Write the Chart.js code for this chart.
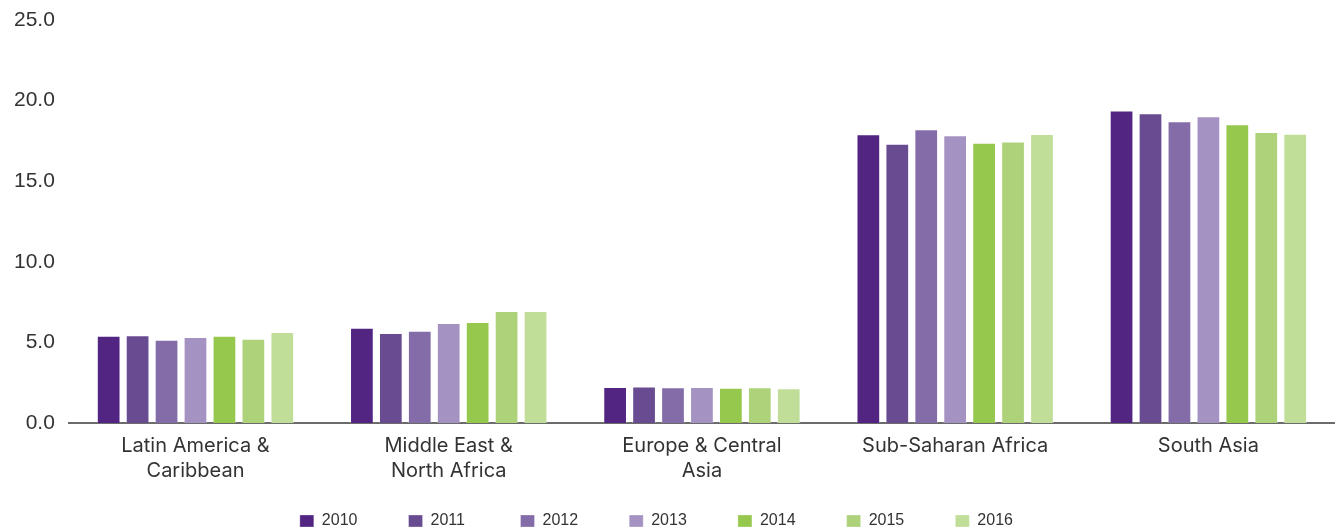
<!DOCTYPE html>
<html>
<head>
<meta charset="utf-8">
<script src="https://cdn.jsdelivr.net/npm/chart.js@4/dist/chart.umd.min.js"></script>
<style>
  html, body { margin: 0; padding: 0; background: #ffffff; }
  #wrap { width: 1335px; height: 532px; position: relative; }
</style>
</head>
<body>
<div id="wrap"><canvas id="chart"></canvas></div>
<script>
// Regions on the x axis
const regions = [
  ["Latin America &", "Caribbean"],
  ["Middle East &", "North Africa"],
  ["Europe & Central", "Asia"],
  ["Sub-Saharan Africa"],
  ["South Asia"]
];

// One series per year, values per region
const years = ["2010", "2011", "2012", "2013", "2014", "2015", "2016"];
const v2010 = [5.41, 5.91, 2.24, 17.91, 19.38];
const v2011 = [5.45, 5.58, 2.26, 17.33, 19.22];
const v2012 = [5.16, 5.72, 2.22, 18.22, 18.72];
const v2013 = [5.33, 6.2, 2.24, 17.85, 19.03];
const v2014 = [5.41, 6.26, 2.18, 17.39, 18.53];
const v2015 = [5.22, 6.95, 2.22, 17.46, 18.05];
const v2016 = [5.64, 6.95, 2.16, 17.93, 17.95];

const seriesValues = [v2010, v2011, v2012, v2013, v2014, v2015, v2016];
const seriesColors = ["#522583", "#694b92", "#846ca8", "#a493c2", "#96c84d", "#add27a", "#c1de98"];

// Y axis tick marks
const yTicks = [0, 5, 10, 15, 20, 25];

const labelFont = "Inter, Lato, sans-serif";
const numberFont = "'Liberation Sans', Arial, sans-serif";
const legendFontSize = 16;
const legendPadding = 20;

// Legend entries sit on a fixed pitch; the text slot is widened with trailing spaces
function legendLabels(chart) {
  const items = Chart.defaults.plugins.legend.labels.generateLabels(chart);
  const ctx = chart.ctx;
  ctx.save();
  ctx.font = legendFontSize + "px " + numberFont;
  items.forEach((it, i) => {
    const slot = i === items.length - 1 ? 57 : 66;
    while (ctx.measureText(it.text).width < slot) it.text += " ";
  });
  ctx.restore();
  return items;
}

new Chart(document.getElementById("chart"), {
  type: "bar",
  data: {
    labels: regions,
    datasets: years.map((y, i) => ({
      label: y,
      data: seriesValues[i],
      backgroundColor: seriesColors[i],
      borderColor: "rgba(255,255,255,0.3)",
      borderWidth: 1,
      categoryPercentage: 0.8,
      barPercentage: 0.82
    }))
  },
  options: {
    responsive: true,
    maintainAspectRatio: false,
    animation: false,
    layout: { padding: { top: 20, right: 0, left: 0, bottom: -7 } },
    plugins: {
      tooltip: { enabled: false },
      legend: {
        position: "bottom",
        labels: {
          boxWidth: 14,
          boxHeight: 12,
          padding: legendPadding,
          color: "#333333",
          font: { family: numberFont, size: legendFontSize },
          generateLabels: legendLabels
        }
      }
    },
    scales: {
      x: {
        grid: { display: false, drawTicks: false },
        border: { display: true, color: "#6b6b6b", width: 2 },
        ticks: {
          color: "#333333",
          padding: 10,
          maxRotation: 0,
          autoSkip: false,
          font: { family: labelFont, size: 20, lineHeight: 25 / 20 }
        }
      },
      y: {
        min: 0,
        max: 25,
        afterBuildTicks: (axis) => { axis.ticks = yTicks.map(v => ({ value: v })); },
        // the top plot edge is set by layout padding alone
        afterFit: (axis) => { axis.paddingTop = 0; },
        grid: { display: false, drawTicks: false },
        border: { display: false },
        ticks: {
          color: "#333333",
          padding: 14,
          font: { family: numberFont, size: 21 },
          callback: (v) => Number(v).toFixed(1)
        }
      }
    }
  }
});
</script>
</body>
</html>
